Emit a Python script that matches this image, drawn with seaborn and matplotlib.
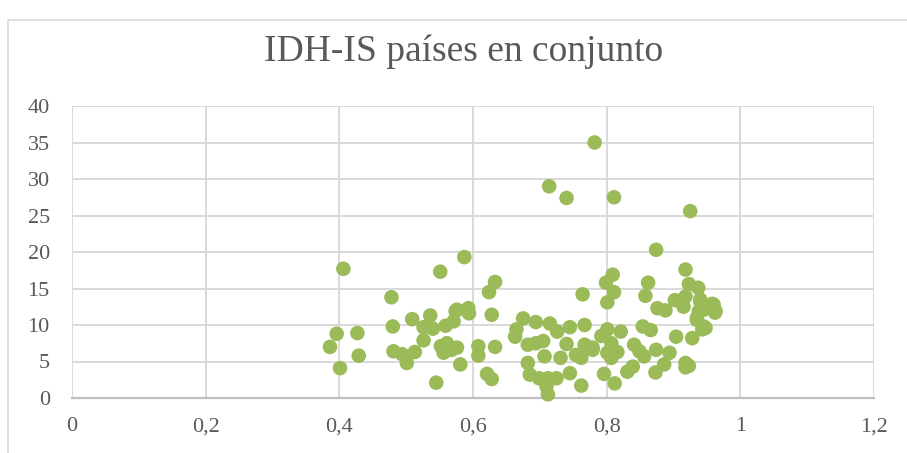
import numpy as np
import pandas as pd
import seaborn as sns
import matplotlib.pyplot as plt
from matplotlib.patches import Rectangle

# IDH (x) vs IS (y)
idh = [0.782, 0.714, 0.740, 0.811, 0.925, 0.874,
       0.406, 0.551, 0.478, 0.396, 0.427, 0.386, 0.429, 0.401, 0.480, 0.481,
       0.509, 0.501, 0.513, 0.494, 0.536, 0.526, 0.526, 0.540, 0.559, 0.574,
       0.571, 0.552, 0.561, 0.556, 0.568, 0.576, 0.545, 0.581,
       0.587, 0.633, 0.624, 0.764, 0.576, 0.593, 0.594, 0.628, 0.608, 0.608,
       0.633, 0.621, 0.628, 0.675, 0.665, 0.663, 0.694, 0.715, 0.726, 0.745,
       0.767, 0.740, 0.682, 0.694, 0.705, 0.707, 0.731, 0.754, 0.767, 0.779,
       0.762, 0.682, 0.685, 0.699, 0.712, 0.725, 0.745, 0.710, 0.712, 0.762,
       0.918, 0.809, 0.799, 0.811, 0.801, 0.862, 0.858, 0.923, 0.937, 0.918,
       0.902, 0.915, 0.876, 0.888, 0.940, 0.958, 0.962, 0.935, 0.945, 0.938,
       0.928, 0.904, 0.854, 0.866, 0.821, 0.801, 0.792, 0.779, 0.807, 0.801,
       0.816, 0.807, 0.841, 0.849, 0.856, 0.874, 0.894, 0.886, 0.873, 0.831,
       0.839, 0.918, 0.918, 0.796, 0.812, 0.940, 0.960, 0.963, 0.945, 0.935,
       0.948, 0.943, 0.923]
is_ = [35.0, 29.0, 27.4, 27.5, 25.6, 20.3,
       17.7, 17.3, 13.8, 8.8, 8.9, 7.0, 5.8, 4.1, 9.8, 6.4,
       10.8, 4.8, 6.3, 6.0, 11.3, 9.7, 7.9, 9.5, 9.9, 11.9,
       10.5, 7.1, 7.5, 6.2, 6.6, 6.9, 2.1, 4.6,
       19.3, 15.9, 14.5, 14.2, 12.1, 12.3, 11.6, 11.4, 7.1, 5.8,
       7.0, 3.3, 2.6, 10.9, 9.4, 8.4, 10.4, 10.2, 9.1, 9.7,
       10.0, 7.4, 7.3, 7.5, 7.8, 5.7, 5.5, 5.9, 7.3, 6.6,
       5.5, 4.8, 3.2, 2.7, 2.7, 2.7, 3.4, 1.6, 0.5, 1.7,
       17.6, 16.9, 15.8, 14.5, 13.1, 15.8, 14.0, 15.6, 15.1, 13.9,
       13.4, 12.5, 12.3, 12.0, 13.2, 12.9, 11.7, 11.0, 9.8, 11.9,
       8.2, 8.4, 9.8, 9.3, 9.1, 9.4, 8.5, 6.9, 7.5, 6.2,
       6.3, 5.5, 7.3, 6.4, 5.7, 6.6, 6.2, 4.6, 3.5, 3.6,
       4.3, 4.8, 4.2, 3.3, 2.0, 13.5, 12.8, 11.9, 12.1, 10.7,
       9.6, 9.4, 4.4]

xticks = [0, 0.2, 0.4, 0.6, 0.8, 1, 1.2]
xlabels = ['0', '0,2', '0,4', '0,6', '0,8', '1', '1,2']
yticks = [0, 5, 10, 15, 20, 25, 30, 35, 40]

df = pd.DataFrame({'IDH': idh, 'IS': is_})

sns.set_style('white')
plt.rcParams['font.family'] = ['Liberation Serif', 'DejaVu Serif']

fig = plt.figure(figsize=(9.07, 4.53), dpi=100)
ax = fig.add_axes([72 / 907, 1 - 398 / 453, 802 / 907, 292 / 453])

# outer chart border
fig.patches.append(Rectangle((8 / 907, -0.5), 2, 0.5 + 1 - 20 / 453,
                             transform=fig.transFigure, fill=False,
                             edgecolor='#D9D9D9', linewidth=1.2))

sns.scatterplot(data=df, x='IDH', y='IS', ax=ax, color='#9BBB59',
                s=110, edgecolor='none', zorder=3, clip_on=False)

ax.set_xlim(0, 1.2)
ax.set_ylim(0, 40)
ax.set_xticks(xticks)
ax.set_xticklabels(xlabels)
ax.set_yticks(yticks)
ax.grid(True, color='#D9D9D9', linewidth=1.4)
ax.set_axisbelow(True)
for side in ['top', 'right', 'left']:
    ax.spines[side].set_visible(False)
ax.spines['bottom'].set_color('#BFBFBF')
ax.spines['bottom'].set_linewidth(1.6)
ax.tick_params(length=0, labelsize=16, colors='#595959')
ax.tick_params(axis='x', pad=14)
ax.tick_params(axis='y', pad=16)
ax.set_xlabel('')
ax.set_ylabel('')

fig.text(0.5 * (265 + 662) / 907, 1 - 52 / 453, 'IDH-IS países en conjunto',
         ha='center', va='center', fontsize=27, color='#595959')

fig.savefig('out.png', dpi=100)
